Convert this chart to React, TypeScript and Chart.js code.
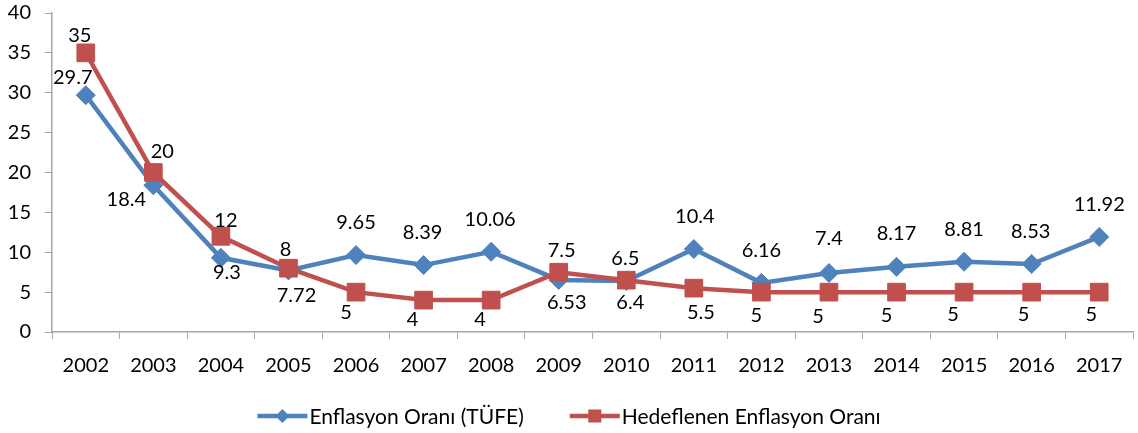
import { useEffect, useRef } from "react";
import { Chart, registerables } from "chart.js";

Chart.register(...registerables);

const years = ["2002", "2003", "2004", "2005", "2006", "2007", "2008", "2009", "2010", "2011", "2012", "2013", "2014", "2015", "2016", "2017"];
const tufe = [29.7, 18.4, 9.3, 7.72, 9.65, 8.39, 10.06, 6.53, 6.4, 10.4, 6.16, 7.4, 8.17, 8.81, 8.53, 11.92];
const hedef = [35, 20, 12, 8, 5, 4, 4, 7.5, 6.5, 5.5, 5, 5, 5, 5, 5, 5];
const seriesNames = ["Enflasyon Oranı (TÜFE)", "Hedeflenen Enflasyon Oranı"];
const yMin = 0;
const yMax = 40;
const yStep = 5;

// label placement offsets (dx, dy) relative to the point, in px
const tufeLabelOffsets: [number, number][] = [
  [-13, -18], [-27, 14], [6, 14], [8, 24], [0, -33], [-1, -33], [-1, -33], [8, 22],
  [4, 21], [1, -33], [0, -33], [0, -35], [0, -34], [0, -33], [-1, -33], [0, -33],
];
const hedefLabelOffsets: [number, number][] = [
  [-6, -18], [9, -22], [5, -17], [-3, -19], [-10, 20], [-11, 19], [-11, 19], [3, -22],
  [-1, -22], [7, 24], [-5, 23], [-11, 24], [-10, 23], [-11, 22], [-8, 22], [-8, 22],
];

const BLUE = "#4F81BD";
const RED = "#C0504D";
const AXIS = "#A6A6A6";
const FONT = "Lato, 'Open Sans', sans-serif";
const fmt = (v: number) => String(v);

export default function App() {
  const ref = useRef<HTMLCanvasElement | null>(null);
  useEffect(() => {
    if (!ref.current) return;
    const labelPlugin = {
      id: "valueLabels",
      afterDatasetsDraw(chart: any) {
        const ctx = chart.ctx;
        ctx.save();
        ctx.font = `20px ${FONT}`;
        ctx.fillStyle = "#000";
        ctx.textAlign = "center";
        ctx.textBaseline = "alphabetic";
        chart.data.datasets.forEach((ds: any, di: number) => {
          const meta = chart.getDatasetMeta(di);
          const offs = di === 0 ? tufeLabelOffsets : hedefLabelOffsets;
          meta.data.forEach((pt: any, i: number) => {
            const [dx, dy] = offs[i];
            ctx.fillText(fmt(ds.data[i]), pt.x + dx, pt.y + dy + 7.2);
          });
        });
        ctx.restore();
      },
    };
    const legendPlugin = {
      id: "customLegend",
      afterDraw(chart: any) {
        const ctx = chart.ctx;
        ctx.save();
        ctx.font = `21px ${FONT}`;
        const lineLen = 50;
        const textGap = 2;
        const itemGap = 46;
        const w1 = ctx.measureText(seriesNames[0]).width;
        const w2 = ctx.measureText(seriesNames[1]).width;
        const total = lineLen + textGap + w1 + itemGap + lineLen + textGap + w2;
        let x = (chart.width - total) / 2;
        const y = 416;
        const items = [
          { color: BLUE, name: seriesNames[0], w: w1, shape: "diamond" },
          { color: RED, name: seriesNames[1], w: w2, shape: "square" },
        ];
        items.forEach((it) => {
          ctx.strokeStyle = it.color;
          ctx.lineWidth = 4.5;
          ctx.beginPath();
          ctx.moveTo(x, y);
          ctx.lineTo(x + lineLen, y);
          ctx.stroke();
          ctx.fillStyle = it.color;
          const cx = x + lineLen / 2;
          ctx.beginPath();
          if (it.shape === "diamond") {
            const r = 7;
            ctx.moveTo(cx - r, y);
            ctx.lineTo(cx, y - r);
            ctx.lineTo(cx + r, y);
            ctx.lineTo(cx, y + r);
            ctx.closePath();
          } else {
            const s = 6.5;
            ctx.rect(cx - s, y - s, 2 * s, 2 * s);
          }
          ctx.fill();
          ctx.fillStyle = "#000";
          ctx.textAlign = "left";
          ctx.textBaseline = "alphabetic";
          ctx.fillText(it.name, x + lineLen + textGap, y + 7.5);
          x += lineLen + textGap + it.w + itemGap;
        });
        ctx.restore();
      },
    };

    const chart = new Chart(ref.current, {
      type: "line",
      data: {
        labels: years,
        datasets: [
          {
            label: seriesNames[0],
            data: tufe,
            borderColor: BLUE,
            backgroundColor: BLUE,
            borderWidth: 4.5,
            pointStyle: "rectRot",
            pointRadius: 9.5,
            pointBorderWidth: 1,
            pointBackgroundColor: BLUE,
            pointBorderColor: BLUE,
            tension: 0,
            order: 1,
          },
          {
            label: seriesNames[1],
            data: hedef,
            borderColor: RED,
            backgroundColor: RED,
            borderWidth: 4.5,
            pointStyle: "rect",
            pointRadius: 12.5,
            pointBorderWidth: 1,
            pointBackgroundColor: RED,
            pointBorderColor: RED,
            tension: 0,
            order: 0,
          },
        ],
      },
      options: {
        animation: false,
        responsive: false,
        maintainAspectRatio: false,
        layout: { autoPadding: false, padding: { top: 13, right: 5, bottom: 53, left: 0 } },
        plugins: {
          legend: { display: false },
          tooltip: { enabled: false },
        },
        scales: {
          x: {
            type: "category",
            offset: true,
            grid: {
              display: true,
              drawOnChartArea: false,
              drawTicks: true,
              tickLength: 7,
              color: AXIS,
              offset: true,
            },
            border: { display: true, color: AXIS, width: 1.5 },
            ticks: {
              color: "#000",
              font: { family: FONT, size: 20 },
              padding: 15,
              maxRotation: 0,
              autoSkip: false,
            },
            afterFit(scale: any) {
              scale.height = 48;
              scale.paddingLeft = 0;
              scale.paddingRight = 0;
            },
          },
          y: {
            min: yMin,
            max: yMax,
            grid: {
              display: true,
              drawOnChartArea: false,
              drawTicks: true,
              tickLength: 7,
              color: AXIS,
            },
            border: { display: true, color: AXIS, width: 1.5 },
            ticks: {
              stepSize: yStep,
              color: "#000",
              font: { family: FONT, size: 20 },
              padding: 14,
            },
            afterFit(scale: any) {
              scale.width = 52;
              scale.paddingTop = 0;
              scale.paddingBottom = 0;
            },
          },
        },
      },
      plugins: [labelPlugin, legendPlugin],
    });
    return () => chart.destroy();
  }, []);

  return (
    <div style={{ position: "fixed", left: 0, top: 0, width: 1138, height: 433, background: "#fff" }}>
      <canvas ref={ref} width={1138} height={433} style={{ width: 1138, height: 433, display: "block" }} />
    </div>
  );
}
